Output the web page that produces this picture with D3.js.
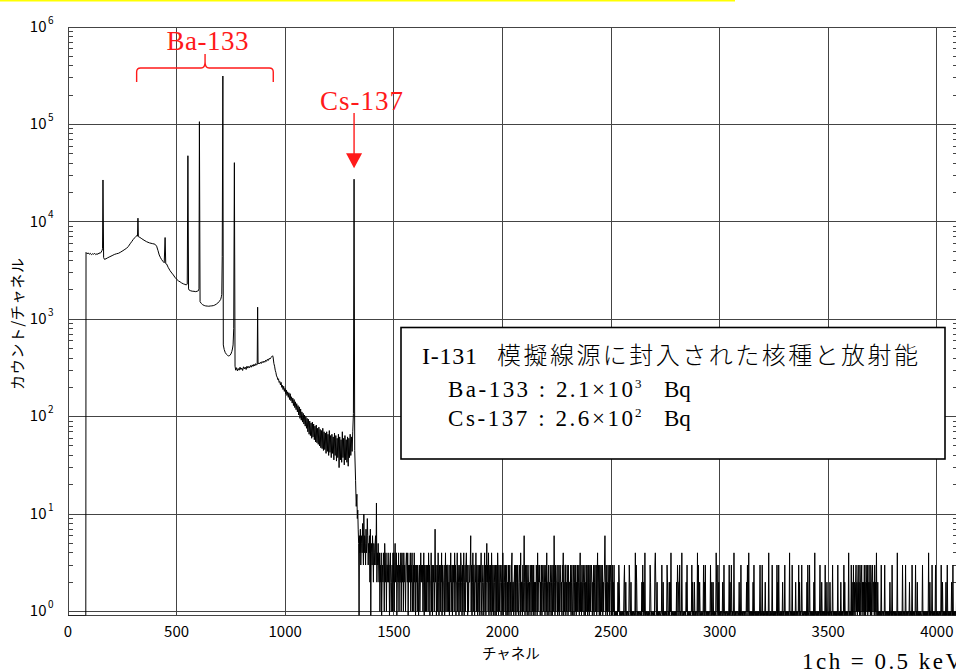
<!DOCTYPE html>
<html>
<head>
<meta charset="utf-8">
<script src="https://cdn.jsdelivr.net/npm/d3@7/dist/d3.min.js"></script>
<style>
  html, body { margin: 0; padding: 0; background: #fff; }
  svg { display: block; }
</style>
</head>
<body>
<svg id="chart" width="956" height="671"></svg>
<script>
// ---- Axis definitions -------------------------------------------------
const channelMax = 4096;
const countFloor = 0.91;              // zero-count channels sit on the bottom frame
const xTicks = [0, 500, 1000, 1500, 2000, 2500, 3000, 3500, 4000];
const yDecadeExps = [0, 1, 2, 3, 4, 5, 6];

// ---- Spectrum: channels 0–1329, [channel, counts] -----------------------
const lowSpectrum = [
  [0,0],[82,0],
  [83,4850],[88,4700],[93,4800],[98,4650],[103,4750],[108,4600],[113,4700],[118,4650],
  [123,4750],[128,4600],[133,4700],[138,4650],[143,4800],[148,4750],[153,4900],[157,5100],[159,5300],
  [161,26900],
  [164,4300],[168,4120],[175,4180],[183,4280],[193,4390],[203,4500],[213,4620],[223,4700],
  [233,4760],[243,4900],[253,5060],[262,5220],[270,5360],[278,5600],[286,5950],[293,6250],
  [300,6580],[308,6900],[313,7100],[317,7220],[320,7150],
  [322,10900],
  [324,7050],[331,6920],[340,6700],[350,6480],[362,6250],[375,6080],[388,5980],[400,5900],
  [408,5630],[414,5100],[420,4570],[426,4280],[431,4100],[437,3930],[443,3800],
  [447,6900],
  [450,3720],[454,3690],[462,3380],[470,3150],[478,2980],[485,2850],[492,2700],[500,2580],
  [508,2480],[516,2420],[523,2360],[531,2310],[538,2280],[545,2250],[549,2300],
  [552,47700],
  [555,2050],[558,1990],[565,1960],[572,1940],[580,1935],[588,1920],[595,1940],[600,1960],[603,2050],
  [605,106700],
  [608,1515],[614,1450],[620,1410],[627,1385],[634,1370],[641,1365],[648,1360],[655,1368],
  [662,1372],[669,1380],[676,1400],[683,1430],[690,1470],[697,1530],[703,1600],[706,1700],
  [708,1800],[710,4400],
  [713,314000],
  [715,545],[719,490],[724,455],[730,435],[735,425],[740,420],[745,425],[750,440],[754,465],
  [757,495],[760,545],[763,800],
  [766,40500],
  [769,330],[772,300],[776,318],[780,295],[784,312],[788,300],[792,322],[796,305],[800,315],
  [804,298],[808,325],[812,310],[816,322],[820,305],[824,330],[828,315],[832,328],[836,318],
  [840,335],[844,322],[848,340],[852,328],[856,345],[860,332],[864,350],[868,338],[871,345],
  [873,1330],
  [875,348],[878,356],[882,348],[886,362],[890,352],[894,368],[898,358],[902,372],[906,362],
  [910,380],[914,370],[918,388],[922,378],[926,396],[930,390],[934,405],[938,412],[942,422],
  [944,410],[948,350],[951,330],[954,300],[957,285],[960,262],[963,255],[966,240],[969,245],
  [972,225],[975,230],[978,212],[981,225],[984,200],[987,210],[990,190],[993,205],[996,182],
  [999,195],[1002,172],[1005,188],[1008,165],[1011,180],[1014,158],[1017,176],[1020,150],
  [1023,172],[1026,146],[1029,160],[1032,138],[1035,155],[1038,130],[1041,150],[1044,124],
  [1047,142],[1050,118],[1053,136],[1056,112],[1059,130],[1062,104],[1065,126],[1068,96],
  [1071,120],[1074,92],[1077,112],[1080,88],[1083,108],[1086,84],[1089,104],[1092,80],
  [1095,100],[1098,76],[1101,96],[1104,70],[1107,94],[1110,66],[1113,90],[1116,64],[1119,86],
  [1122,60],[1125,88],[1128,62],[1131,84],[1134,58],[1137,80],[1140,55],[1143,82],[1146,54],
  [1149,76],[1152,52],[1155,78],[1158,50],[1161,74],[1164,48],[1167,72],[1170,47],[1173,76],
  [1176,45],[1179,70],[1182,46],[1185,68],[1188,42],[1191,70],[1194,44],[1197,66],[1200,40],
  [1203,72],[1206,43],[1209,64],[1212,38],[1215,66],[1218,42],[1221,62],[1224,36],[1227,68],
  [1230,40],[1233,64],[1236,35],[1239,60],[1242,38],[1245,66],[1248,30],[1251,62],[1254,36],
  [1257,58],[1260,34],[1263,70],[1266,38],[1269,60],[1272,32],[1275,64],[1278,36],[1281,58],
  [1284,34],[1287,62],[1290,31],[1293,60],[1296,38],[1299,66],[1302,40],[1305,62],[1308,44],
  [1311,70],[1314,108],
  [1317,27400],
  [1320,45],[1324,22],[1327,12]
];

// ---- Spectrum: channels 1330–1428, read at every 2nd channel -------------
const tailStep = 2;
const nearTailStart = 1330;
const nearTail = [16,9,11,7,5,0,6,4,7,3,5,6,4,8,5,3,10,4,6,5,3,7,4,5,9,6,3,5,4,6,
                  2,7,0,4,5,3,6,4,2,5,4,3,5,6,3,13,2,4,3,5];

// ---- Spectrum: channels 1430–4094, every 2nd channel, one digit per reading
const farTailStart = 1430;
const farTailA = "3241324023 2431532413 3242303421 2314241352 3402324132 2413423142 3213432403 2324132412 3142303231";
const farTailB = "3202312423 2312403213 1323142302 2413032312 7230231420 3213240312 2302413213 3120324123 0323142302 2413202314 " +
                 "3203124023 1342302132 2361302413 3022413203 2130324102 3202413025 2314023130 4213023203 2031420312 3202314023";
const farTailC = "2130230213 0231203412 2023130231 3102320412 2031262032 1302320213 2032130312 0213204123 2302130232 1320231402 " +
                 "2302132023 0231620312 2302130232 1203240213 3021320312 2130231023 0231302131 2302412032 1320230213 2031302312 " +
                 "3202130231 1302413203 2031230212 3620312032 1302320130";
const farTailD = "2130101101 0213201010 1101023012 0101101320 1201010110 1403201010 0110102130 2014010110 1010132010 0110103420 " +
                 "1201010110 0131020101 1010320102 0214010110 1010102032 2013010140 0101101021 3010110101 1302010201 0110403102 " +
                 "1010110130 2031010101 0110310201 2010101420 1302010101";
const farTailE = "1020131010 0110101302 1031010140 0101101101 2010310101 1010110213 0140101010 1020310101 0101010130 1013010101 " +
                 "2010101040 0101013010 1010101302 0310101010 2010130101 0101014010 1030101010 2010101302 0101310101 1010102031 " +
                 "0130101010 1020401101 0101013010 2010101030 1021010102";
const farTailF = "1010130101 0101010310 1010201010 1302010101 0140101030 2013021023 1202312032 0231202130 2032130213 1203202312 " +
                 "2031204102 0101010301 1010130101 0101010210 1030110101 0101401010 1010103010 0103010101 1020101030 0101013010 " +
                 "2010101010 0130101010 1010104102 0101301010 1030101010 0101031020 1010102013 0101010102 1030101010 130";

// ---- Annotation anchors (channels) --------------------------------------
const baBraceChannels = [316, 945];
const baBraceTipChannel = 631;
const csPeakChannel = 1317;

// ---- Text ---------------------------------------------------------------
const yTitle = "カウント/チャネル";
const xTitle = "チャネル";
const calibrationNote = "1ch = 0.5 keV";
const boxTitleLatin = "I-131";
const boxTitleJa = "模擬線源に封入された核種と放射能";
const nuclideRows = [
  { name: "Ba-133", mant: "2.1", exp: "3" },
  { name: "Cs-137", mant: "2.6", exp: "2" }
];

// ======================================================================
const svg = d3.select("#chart");
const plot = { left: 68, right: 957.7, top: 27, bottom: 615.5 };

const x = d3.scaleLinear().domain([0, channelMax]).range([plot.left, plot.right]);
const y = d3.scaleLog().domain([countFloor, 1e6]).range([plot.bottom, plot.top]);
const yv = c => y(Math.max(c, countFloor));

const sans = "'Noto Sans CJK JP', 'Noto Sans', sans-serif";
const serif = "'Liberation Serif', 'DejaVu Serif', 'Noto Sans CJK JP', serif";
const gridColor = "#444";
const red = "#ff1a1a";

// top highlight strip
svg.append("rect").attr("x", 0).attr("y", 0).attr("width", 735).attr("height", 1.5).attr("fill", "#ffff00");

svg.append("defs").append("clipPath").attr("id", "plotClip")
  .append("rect").attr("x", plot.left).attr("y", plot.top)
  .attr("width", plot.right - plot.left).attr("height", plot.bottom - plot.top);

// ---- grid & frame ----
const decades = yDecadeExps.map(e => Math.pow(10, e));
const grid = svg.append("g").attr("stroke", gridColor).attr("stroke-width", 1)
  .attr("shape-rendering", "crispEdges");

grid.selectAll("line.h").data(decades.filter(d => d < 1e6)).join("line").attr("class", "h")
  .attr("x1", plot.left).attr("x2", plot.right)
  .attr("y1", d => y(d)).attr("y2", d => y(d));

grid.selectAll("line.v").data(xTicks.filter(d => d > 0)).join("line").attr("class", "v")
  .attr("x1", d => x(d)).attr("x2", d => x(d))
  .attr("y1", plot.top).attr("y2", plot.bottom);

const minor = [];
decades.slice(0, -1).forEach(d => { for (let k = 2; k <= 9; k++) minor.push(d * k); });
grid.selectAll("line.ml").data(minor).join("line").attr("class", "ml")
  .attr("x1", plot.left).attr("x2", plot.left + 4.5)
  .attr("y1", d => y(d)).attr("y2", d => y(d));
grid.selectAll("line.mr").data(minor).join("line").attr("class", "mr")
  .attr("x1", plot.right - 5).attr("x2", plot.right)
  .attr("y1", d => y(d)).attr("y2", d => y(d));

grid.append("rect").attr("x", plot.left).attr("y", plot.top)
  .attr("width", plot.right - plot.left).attr("height", plot.bottom - plot.top)
  .attr("fill", "none");

// ---- spectrum ----
const nearPts = nearTail.map((c, i) => [nearTailStart + i * tailStep, c]);
const farDigits = [farTailA, farTailB, farTailC, farTailD, farTailE, farTailF].join("").replace(/\s/g, "");
const farPts = farDigits.split("").map((c, i) => [farTailStart + i * tailStep, +c]);
const spectrum = lowSpectrum.concat(nearPts, farPts);

const line = d3.line().x(d => x(d[0])).y(d => yv(d[1]));
svg.append("path")
  .attr("clip-path", "url(#plotClip)")
  .attr("d", line(spectrum))
  .attr("fill", "none")
  .attr("stroke", "#000")
  .attr("stroke-width", 1)
  .attr("stroke-linejoin", "bevel");

// ---- axis labels ----
const yl = svg.append("g").attr("font-family", sans).attr("fill", "#000");
yl.selectAll("text.b").data(yDecadeExps).join("text").attr("class", "b")
  .attr("x", 46.5).attr("y", e => y(Math.pow(10, e)) + 4.8)
  .attr("text-anchor", "end").attr("font-size", 15).text("10");
yl.selectAll("text.e").data(yDecadeExps).join("text").attr("class", "e")
  .attr("x", 48).attr("y", e => y(Math.pow(10, e)) - 3.5)
  .attr("font-size", 10).text(e => e);

svg.append("g").attr("font-family", sans).attr("font-size", 15)
  .selectAll("text").data(xTicks).join("text")
  .attr("x", d => x(d)).attr("y", 637).attr("text-anchor", "middle").text(d => d);

svg.append("text").attr("font-family", sans).attr("font-size", 14.5)
  .attr("x", (plot.left + plot.right) / 2 - 2).attr("y", 658.5).attr("text-anchor", "middle").text(xTitle);

svg.append("text").attr("font-family", sans).attr("font-size", 15)
  .attr("transform", "translate(23,324) rotate(-90)")
  .attr("text-anchor", "middle").attr("textLength", 132).attr("lengthAdjust", "spacing").text(yTitle);

svg.append("text").attr("font-family", serif).attr("font-size", 23)
  .attr("x", 802).attr("y", 668.5).attr("textLength", 160).attr("lengthAdjust", "spacing")
  .text(calibrationNote);

// ---- annotations ----
const ann = svg.append("g").attr("fill", "none").attr("stroke", red).attr("stroke-width", 1.4);
const bx0 = x(baBraceChannels[0]), bx1 = x(baBraceChannels[1]), bxm = x(baBraceTipChannel);
ann.append("path").attr("d",
  `M${bx0},82 L${bx0},72 Q${bx0},68 ${bx0 + 4},68 L${bxm - 4},68 Q${bxm},68 ${bxm},62 L${bxm},54 ` +
  `M${bxm},62 Q${bxm},68 ${bxm + 4},68 L${bx1 - 4},68 Q${bx1},68 ${bx1},72 L${bx1},82`);

svg.append("text").attr("font-family", serif).attr("font-size", 27).attr("fill", red)
  .attr("x", bxm + 2.5).attr("y", 50).attr("text-anchor", "middle")
  .attr("textLength", 82).attr("lengthAdjust", "spacing").text("Ba-133");

const cx = x(csPeakChannel);
const peakTop = yv(27400);
ann.append("line").attr("x1", cx).attr("x2", cx).attr("y1", 113).attr("y2", peakTop - 25);
svg.append("path").attr("fill", red)
  .attr("d", `M${cx - 8},${peakTop - 26} L${cx + 8},${peakTop - 26} L${cx},${peakTop - 11} Z`);
svg.append("text").attr("font-family", serif).attr("font-size", 27).attr("fill", red)
  .attr("x", cx + 7.5).attr("y", 110).attr("text-anchor", "middle")
  .attr("textLength", 83).attr("lengthAdjust", "spacing").text("Cs-137");

// ---- activity box ----
const box = svg.append("g");
box.append("rect").attr("x", 401).attr("y", 327.5).attr("width", 544).attr("height", 131.5)
  .attr("fill", "#fff").attr("stroke", "#000").attr("stroke-width", 1.6);

box.append("text").attr("font-family", serif).attr("font-size", 24)
  .attr("x", 422).attr("y", 363.5).attr("textLength", 55).attr("lengthAdjust", "spacing").text(boxTitleLatin);
box.append("text").attr("font-family", "'Noto Sans CJK JP', sans-serif").attr("font-weight", 300)
  .attr("font-size", 24).attr("x", 497).attr("y", 364)
  .attr("textLength", 421).attr("lengthAdjust", "spacing").text(boxTitleJa);

nuclideRows.forEach((r, i) => {
  const by = 397 + i * 28.5;
  box.append("text").attr("font-family", serif).attr("font-size", 23)
    .attr("x", 448).attr("y", by).attr("textLength", 185).attr("lengthAdjust", "spacing")
    .text(`${r.name} : ${r.mant}×10`);
  box.append("text").attr("font-family", serif).attr("font-size", 13)
    .attr("x", 635).attr("y", by - 9).text(r.exp);
  box.append("text").attr("font-family", serif).attr("font-size", 23)
    .attr("x", 664).attr("y", by).text("Bq");
});
</script>
</body>
</html>
